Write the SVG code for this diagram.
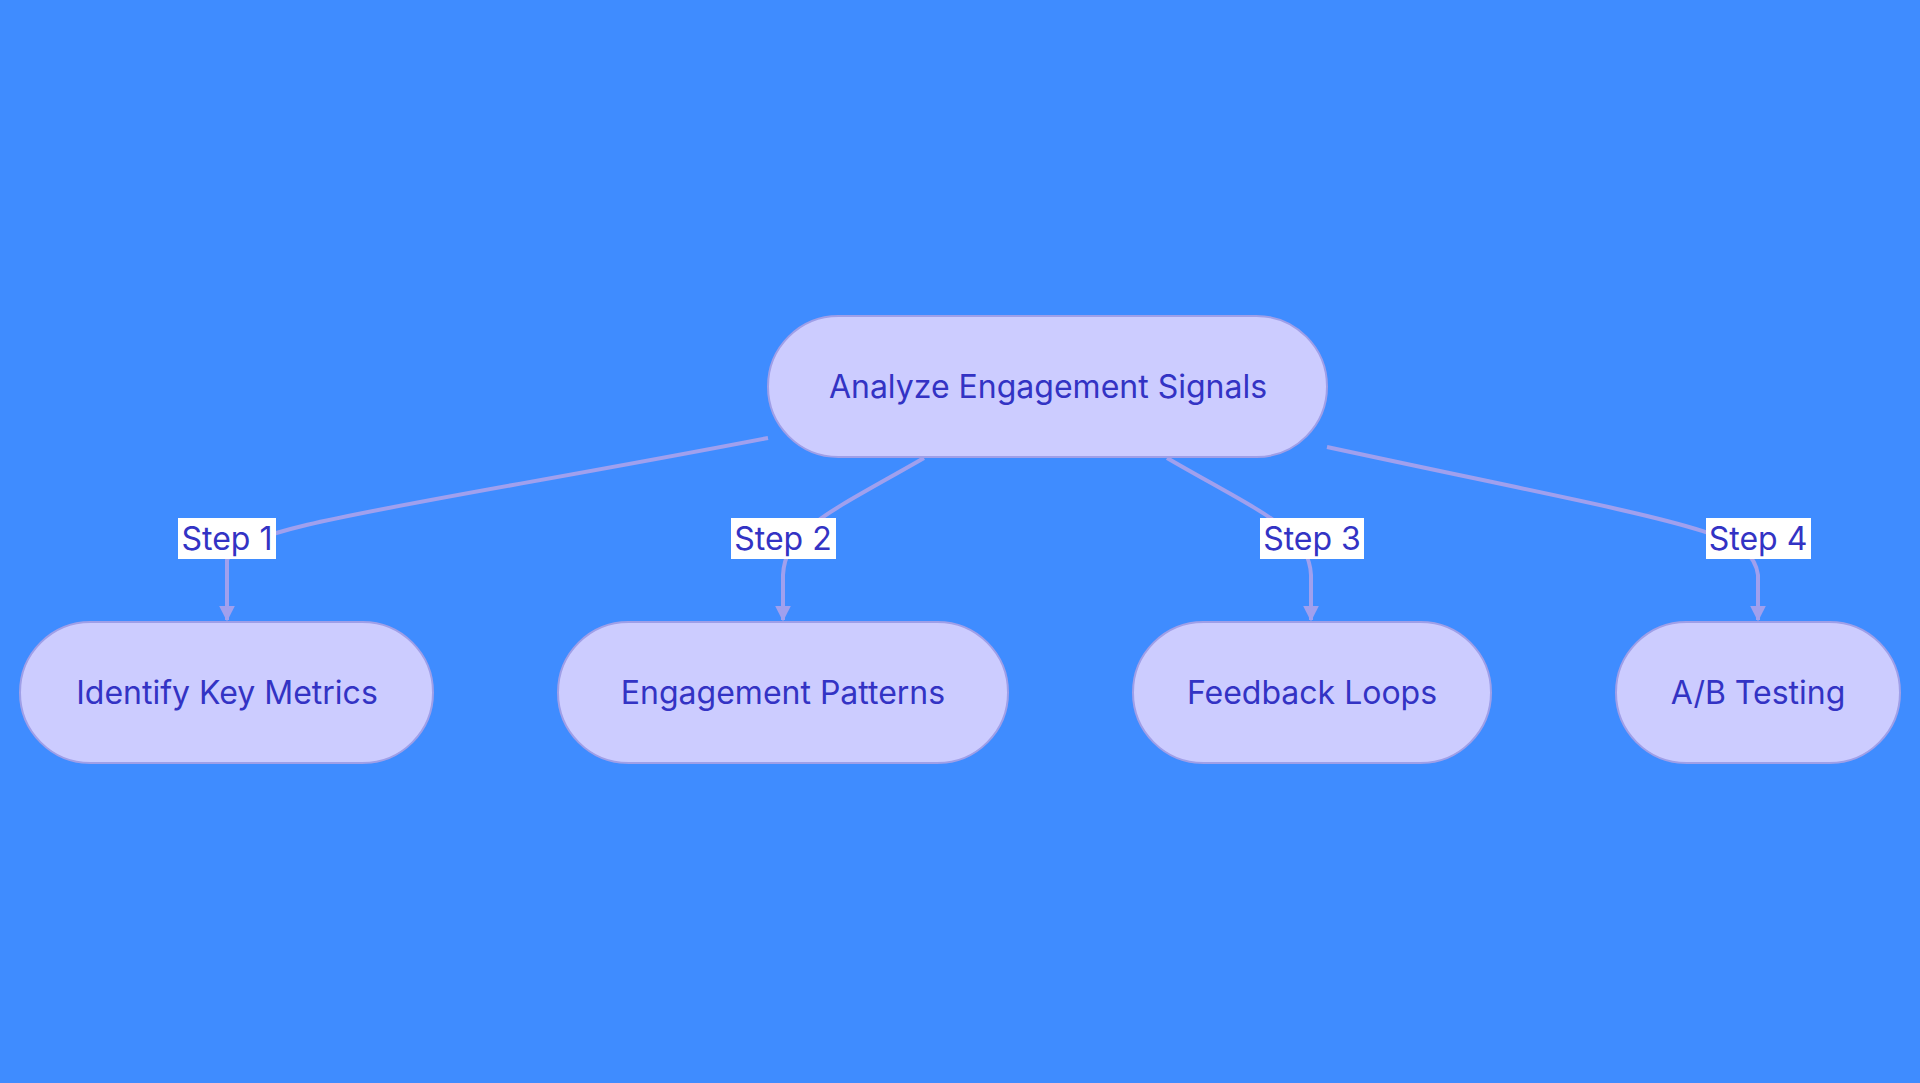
<svg xmlns="http://www.w3.org/2000/svg" width="1920" height="1083" viewBox="0 0 1920 1083">
<style>
.n rect{fill:#ccccff;stroke:#9f9fe8;stroke-width:2}
.n text,.l text{font-family:Inter,"Liberation Sans",sans-serif;font-size:32px;fill:#3333c4;text-anchor:middle;dominant-baseline:central}
.e path{fill:none;stroke:#a0a0ee;stroke-width:4}
.l rect{fill:#ffffff}
</style>
<defs><marker id="a" viewBox="0 0 10 10" refX="9" refY="5" markerWidth="4" markerHeight="4" orient="auto" markerUnits="strokeWidth"><path d="M0,0L10,5L0,10z" fill="#a0a0ee"/></marker></defs>
<rect width="1920" height="1083" fill="#3f8cff"/>
<g class="e">
<path d="M768,438 C420,505 240,525 227,560 L227,620" marker-end="url(#a)"/>
<path d="M924,458 C830,512 785,530 783,575 L783,620" marker-end="url(#a)"/>
<path d="M1167,458 C1260,512 1309,530 1311,575 L1311,620" marker-end="url(#a)"/>
<path d="M1327,447 C1690,525 1752,530 1758,575 L1758,620" marker-end="url(#a)"/>
</g>
<g class="l">
<g><rect x="178" y="518" width="98" height="41"/><text x="227" y="538">Step 1</text></g>
<g><rect x="731" y="518" width="105" height="41"/><text x="783" y="538">Step 2</text></g>
<g><rect x="1260" y="518" width="104" height="41"/><text x="1312" y="538">Step 3</text></g>
<g><rect x="1706" y="518" width="105" height="41"/><text x="1758" y="538">Step 4</text></g>
</g>
<g id="root" class="n"><rect x="768" y="316" width="559" height="141" rx="70.5"/><text x="1048" y="386">Analyze Engagement Signals</text></g>
<g id="n1" class="n"><rect x="20" y="622" width="413" height="141" rx="70.5"/><text x="227" y="692">Identify Key Metrics</text></g>
<g id="n2" class="n"><rect x="558" y="622" width="450" height="141" rx="70.5"/><text x="783" y="692">Engagement Patterns</text></g>
<g id="n3" class="n"><rect x="1133" y="622" width="358" height="141" rx="70.5"/><text x="1312" y="692">Feedback Loops</text></g>
<g id="n4" class="n"><rect x="1616" y="622" width="284" height="141" rx="70.5"/><text x="1758" y="692">A/B Testing</text></g>
</svg>
